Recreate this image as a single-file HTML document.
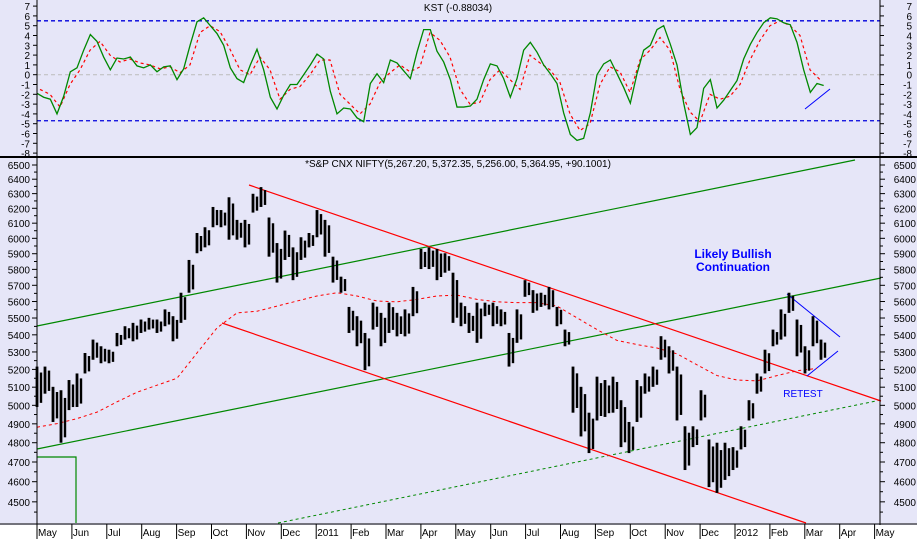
<!DOCTYPE html>
<html><head><meta charset="utf-8"><style>
html,body{margin:0;padding:0;background:#fff}
svg{display:block;font-family:"Liberation Sans",sans-serif}
</style></head><body>
<svg id="chart" width="917" height="539" viewBox="0 0 917 539">
<rect x="0" y="0" width="917" height="525" fill="#e6e6f8"/>
<rect x="0" y="525" width="917" height="14" fill="#ffffff"/>
<g id="kstPanel"></g>
<g id="pricePanel"></g>
<g id="axes"></g>
</svg>
<script>
const kstGreen=[-1.9,-2.3,-2.5,-4.0,-2.2,0.3,0.7,2.5,4.1,3.4,1.8,0.5,1.7,1.6,1.8,0.9,0.7,1.0,0.3,0.8,0.9,-0.5,0.6,3.1,5.4,5.8,5.0,4.2,3.0,0.7,-0.4,-0.8,1.0,2.6,0.5,-2.3,-3.5,-2.1,-1.0,-1.0,0.0,1.0,2.1,1.6,-1.7,-4.0,-3.4,-3.5,-4.4,-4.8,-0.9,0.1,-0.8,1.5,1.2,0.4,-0.4,2.3,4.6,4.6,2.4,1.3,-0.5,-3.3,-3.3,-3.2,-2.5,-0.5,1.1,0.9,-0.4,-2.3,-0.4,2.5,3.3,2.3,1.0,0.1,-0.9,-3.9,-6.1,-6.7,-6.5,-3.9,0.0,1.1,1.5,0.1,-1.3,-2.9,0.1,2.5,3.0,4.6,5.0,3.1,1.0,-2.9,-6.1,-5.4,-1.4,-0.5,-3.4,-2.6,-1.6,-0.6,1.6,3.1,4.3,5.3,5.8,5.7,5.3,5.1,3.3,0.5,-1.8,-0.9,-1.1];
const kstSignal=[-1.5,-2,-3.3,-1,0.5,2.5,3.4,2.0,1.3,1.6,1.2,1.0,0.6,0.8,0.2,1.0,4.3,5.0,4.4,2.6,0.5,0,1.8,0.5,-2.5,-1.5,-1.2,0,1.5,1.5,-2.0,-3.0,-4.0,-3.0,-0.8,0.2,1.0,0.3,0.8,4.3,3.5,1.8,-1.5,-3.0,-2.8,-0.5,0.5,-0.5,-1.5,2.0,1.2,0.5,-0.8,-4.0,-5.7,-5.0,-1.0,0.8,0.3,-1.8,1.5,2.5,3.8,2.5,-1.5,-3.8,-4.8,-2.0,-2.5,-2.2,-1.0,1.5,3.5,5.0,5.5,5.0,4.0,0.5,-0.5];
const kstTicks=[7,6,5,4,3,2,1,0,-1,-2,-3,-4,-5,-6,-7,-8];
const kstBands=[5.5,-4.7];
const priceHigh=[5216,5216,5102,5083,5140,5177,5294,5372,5333,5313,5411,5451,5471,5491,5501,5491,5552,5511,5654,5860,6035,6073,6209,6188,6275,6122,6122,6299,6345,6138,5969,6051,5941,6007,6035,6188,6122,5881,5754,5567,5511,5411,5593,5531,5593,5531,5552,5690,5931,5941,5931,5903,5779,5593,5531,5593,5593,5593,5552,5411,5552,5732,5670,5654,5690,5567,5431,5216,5102,4960,5159,5140,5159,5028,4910,5140,5177,5216,5392,5333,5216,4887,4887,5083,4817,4800,4800,4777,4887,5028,5177,5313,5431,5552,5654,5491,5333,5511,5372];
const priceLow=[4991,5064,4910,4800,4974,4991,5177,5255,5235,5235,5333,5372,5362,5411,5431,5411,5451,5362,5471,5654,5903,5941,6073,6073,5991,5991,5941,6171,6209,5881,5717,5860,5732,5860,5941,6007,5881,5717,5654,5411,5333,5196,5431,5333,5411,5391,5391,5511,5802,5802,5732,5779,5471,5451,5411,5353,5511,5451,5451,5216,5353,5629,5531,5567,5552,5451,5333,4960,4833,4746,4918,4937,4960,4777,4746,4910,5064,5102,5255,5177,4918,4659,4777,4918,4573,4544,4609,4659,4765,4918,5064,5177,5333,5372,5531,5275,5177,5333,5255];
const movingAvg=[4882,4901,4928,4963,5019,5072,5111,5150,5294,5441,5531,5541,5572,5603,5634,5654,5634,5603,5598,5613,5634,5639,5613,5598,5593,5593,5572,5501,5431,5367,5343,5323,5289,5226,5165,5140,5135,5165,5192,5206];
const priceTicks=[6500,6400,6300,6200,6100,6000,5900,5800,5700,5600,5500,5400,5300,5200,5100,5000,4900,4800,4700,4600,4500];
const monthLabels=["May","Jun","Jul","Aug","Sep","Oct","Nov","Dec","2011","Feb","Mar","Apr","May","Jun","Jul","Aug","Sep","Oct","Nov","Dec","2012","Feb","Mar","Apr","May"];

const NS="http://www.w3.org/2000/svg";
function mk(tag,attrs,parent){const e=document.createElementNS(NS,tag);for(const k in attrs)e.setAttribute(k,attrs[k]);parent.appendChild(e);return e;}
const L=37,R=880;
const yK=v=>74.7-v*9.8;
const yP=p=>165+916*Math.log(6500/p);
const xMonth=i=>39+i*34.9;
const xGreen=i=>37+i*(20/3);
const xSignal=i=>40+i*10;
const xBar=i=>37+i*8;
const xMA=i=>37+i*20;

const kst=document.getElementById('kstPanel');
const price=document.getElementById('pricePanel');
const axes=document.getElementById('axes');

let e=mk('line',{x1:L,x2:R,y1:yK(0),y2:yK(0),stroke:'#bbbbbb','stroke-dasharray':'4,3'},kst);


kstBands.forEach((b,i)=>{
  const l=mk('line',{x1:L,x2:R,y1:yK(b),y2:yK(b),stroke:'#0000dd','stroke-width':1.3,'stroke-dasharray':'4,3'},kst);
  
  
});
e=mk('polyline',{points:kstSignal.map((v,i)=>xSignal(i)+','+yK(v)).join(' '),fill:'none',stroke:'#ff0000','stroke-width':1.2,'stroke-dasharray':'3,3'},kst);


e=mk('polyline',{points:kstGreen.map((v,i)=>xGreen(i)+','+yK(v)).join(' '),fill:'none',stroke:'#008800','stroke-width':1.3},kst);


e=mk('line',{x1:805,y1:109,x2:830,y2:89,stroke:'#0000ff','stroke-width':1},kst);


e=mk('text',{x:458,y:11,'font-size':10,'text-anchor':'middle',fill:'#000'},kst);
e.textContent='KST (-0.88034)';



const lines=[
 ['green-channel-top',37,326,855,160,'#008800',1.2,null],
 ['green-channel-middle',37,449,881,278,'#008800',1.2,null],
 ['green-dotted-support',278,523,881,400,'#008800',1,'3,3'],
 ['red-channel-upper',249,185,881,401,'#ff0000',1.2,null],
 ['red-channel-lower',222,323,806,523,'#ff0000',1.2,null],
 ['blue-triangle-upper',787,294,840,337,'#0000ff',1,null],
 ['blue-triangle-lower',807,376,838,351,'#0000ff',1,null]
];
lines.forEach(a=>{
  const o={x1:a[1],y1:a[2],x2:a[3],y2:a[4],stroke:a[5],'stroke-width':a[6]};
  if(a[7])o['stroke-dasharray']=a[7];
  const l=mk('line',o,price);
  
  
});
e=mk('polyline',{points:'37,457 76,457 76,523',fill:'none',stroke:'#008800','stroke-width':1.2},price);


e=mk('polyline',{points:movingAvg.map((v,i)=>xMA(i)+','+yP(v)).join(' '),fill:'none',stroke:'#ff0000','stroke-width':1,'stroke-dasharray':'3,3'},price);


priceHigh.forEach((h,i)=>{
  const lo=priceLow[i];
  const b=mk('line',{x1:xBar(i),x2:xBar(i),y1:yP(h),y2:yP(lo),stroke:'#000','stroke-width':2.8},price);
  
  
  const b2=mk('line',{x1:xBar(i)+4,x2:xBar(i)+4,y1:yP(lo+(h-lo)*0.85),y2:yP(lo+(h-lo)*0.1),stroke:'#000','stroke-width':2.4},price);
  
  
});
e=mk('text',{x:458,y:167,'font-size':10,'text-anchor':'middle',fill:'#000'},price);
e.textContent='*S&P CNX NIFTY(5,267.20, 5,372.35, 5,256.00, 5,364.95, +90.1001)';


e=mk('text',{x:733,y:258,'font-size':12,'font-weight':'bold','text-anchor':'middle',fill:'#0000ff'},price);
e.textContent='Likely Bullish';


e=mk('text',{x:733,y:271,'font-size':12,'font-weight':'bold','text-anchor':'middle',fill:'#0000ff'},price);
e.textContent='Continuation';


e=mk('text',{x:803,y:397,'font-size':10,'text-anchor':'middle',fill:'#0000ff'},price);
e.textContent='RETEST';



[['left-axis-line',L,0,L,525],['right-axis-line',R,0,R,525]].forEach(a=>{
  const l=mk('line',{x1:a[1],y1:a[2],x2:a[3],y2:a[4],stroke:'#000','stroke-width':1},axes);
  
  
});
e=mk('line',{x1:0,x2:917,y1:157,y2:157,stroke:'#000','stroke-width':2},axes);


e=mk('line',{x1:0,x2:917,y1:524,y2:524,stroke:'#000','stroke-width':1},axes);


kstTicks.forEach(v=>{
  const y=yK(v);
  [[L-4,L],[R,R+4]].forEach(p=>{const t=mk('line',{x1:p[0],x2:p[1],y1:y,y2:y,stroke:'#000'},axes);});
  const t1=mk('text',{x:30,y:y+4,'font-size':10,'text-anchor':'end'},axes);t1.textContent=v;
  
  
  const t2=mk('text',{x:912,y:y+4,'font-size':10,'text-anchor':'end'},axes);t2.textContent=v;
  
  
});
priceTicks.forEach(v=>{
  const y=yP(v);
  [[L-5,L],[R,R+5]].forEach(p=>{const t=mk('line',{x1:p[0],x2:p[1],y1:y,y2:y,stroke:'#000'},axes);});
  const m=yP(v-50);
  if(m<522){const t=mk('line',{x1:L-3,x2:L,y1:m,y2:m,stroke:'#000'},axes);
  const t3=mk('line',{x1:R,x2:R+3,y1:m,y2:m,stroke:'#000'},axes);}
  const t1=mk('text',{x:30,y:y+4,'font-size':10,'text-anchor':'end'},axes);t1.textContent=v;
  
  
  const t2=mk('text',{x:916,y:y+4,'font-size':10,'text-anchor':'end'},axes);t2.textContent=v;
  
  
});
monthLabels.forEach((m,i)=>{
  const x=xMonth(i);
  const t=mk('line',{x1:x-2,x2:x-2,y1:524,y2:539,stroke:'#000'},axes);
  
  
  const lb=mk('text',{x:x-1,y:536,'font-size':10},axes);lb.textContent=m;
  
  
});
</script>
</body></html>
